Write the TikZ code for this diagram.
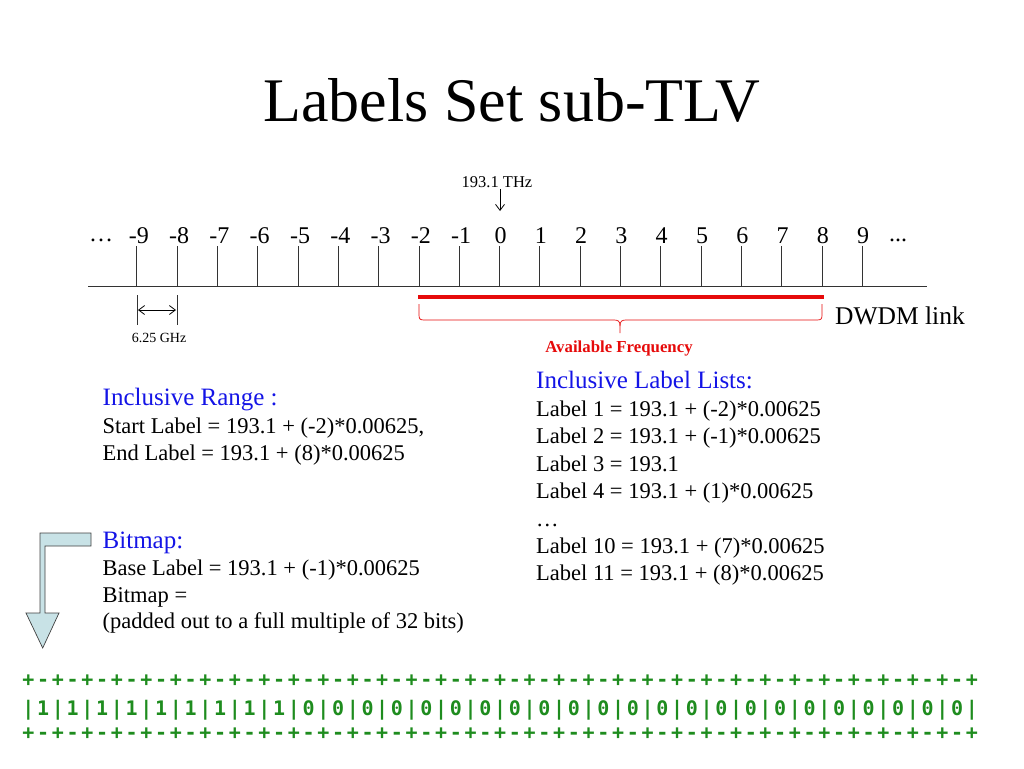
\documentclass[tikz,border=0pt]{standalone}
\usepackage{fontspec}
\setmainfont{Liberation Serif}
\newfontfamily\monofont{DejaVu Sans Mono}
\usetikzlibrary{arrows.meta}
\definecolor{hblue}{RGB}{20,20,230}
\definecolor{fred}{RGB}{230,10,10}
\definecolor{bgreen}{RGB}{30,140,30}
\definecolor{arrowfill}{RGB}{200,226,230}
\begin{document}
\begin{tikzpicture}[x=1pt,y=-1pt,
  txt/.style={inner sep=0pt, anchor=base west, font=\fontsize{22.5}{27}\selectfont},
  head/.style={inner sep=0pt, anchor=base west, text=hblue, font=\fontsize{25}{30}\selectfont},
  num/.style={inner sep=0pt, anchor=base, font=\fontsize{24}{28}\selectfont},
  small/.style={inner sep=0pt, anchor=base, font=\fontsize{14}{16}\selectfont},
  bm/.style={inner sep=0pt, anchor=base, text=bgreen, font=\monofont\bfseries\fontsize{20}{22}\selectfont},
  tickline/.style={line width=0.8pt, black!80},
  barb/.style={-{Straight Barb[length=6pt,width=9pt]}, line width=0.8pt},
  dbarb/.style={{Straight Barb[length=6pt,width=9pt]}-{Straight Barb[length=6pt,width=9pt]}, line width=0.8pt}
]
\useasboundingbox (0,0) rectangle (1024,768);

% title
\node[inner sep=0pt, anchor=base, font=\fontsize{62}{70}\selectfont] (title) at (512,121) {Labels Set sub-TLV};

% axis and ticks
\draw[tickline] (88,286.5) -- (927,286.5);
\foreach \i in {-9,...,9} {
  \draw[tickline] ({499.5+40.3*\i},246) -- ({499.5+40.3*\i},286.5);
  \pgfmathsetmacro\xx{499.5+40.3*\i + (\i<0 ? 2 : 1)}
  \node[num] (n\i) at (\xx,243) {\i};
}
\node[num, anchor=base west] (ldots) at (89,241) {…};
\node[num, anchor=base west] (rdots) at (889,241) {...};

% 193.1 THz
\node[inner sep=0pt, anchor=base, font=\fontsize{16.5}{18}\selectfont] (thz) at (497,187) {193.1 THz};
\coordinate (thzfrom) at (500,189);
\coordinate (thzto) at (500,211);
\draw[barb] (thzfrom) -- (thzto);

% 6.25 GHz
\draw[tickline] (137,295) -- (137,325);
\draw[tickline] (177,295) -- (177,325);
\coordinate (gl) at (138,310);
\coordinate (gr) at (176,310);
\draw[dbarb] (gl) -- (gr);
\node[small] (ghz) at (159,342) {6.25 GHz};

% available frequency
\draw[fred, line width=4pt] (418,297) -- (824,297);
\draw[fred, line width=0.7pt] (419,304) -- (419,315) .. controls (419,319) and (420,320) .. (424,320) -- (614,320) .. controls (618,320) and (620,321) .. (620,326) -- (620,333);
\draw[fred, line width=0.7pt] (620,326) .. controls (620,321) and (622,320) .. (626,320) -- (817,320) .. controls (821,320) and (822,319) .. (822,315) -- (822,304);
\node[inner sep=0pt, anchor=base, text=fred, font=\bfseries\fontsize{16.8}{18}\selectfont] (avail) at (619,352.5) {Available Frequency};
\node[inner sep=0pt, anchor=base west, font=\fontsize{25.5}{30}\selectfont] (dwdm) at (835,324) {DWDM link};

% inclusive range
\node[head] (ir) at (102.5,405) {Inclusive Range :};
\node[txt] (ir1) at (102.5,433) {Start Label = 193.1 + (-2)*0.00625,};
\node[txt] (ir2) at (102.5,460.5) {End Label = 193.1 + (8)*0.00625};

% inclusive label lists
\node[head] (il) at (536,388) {Inclusive Label Lists:};
\node[txt] (il1) at (536,416) {Label 1 = 193.1 + (-2)*0.00625};
\node[txt] (il2) at (536,443.5) {Label 2 = 193.1 + (-1)*0.00625};
\node[txt] (il3) at (536,471) {Label 3 = 193.1};
\node[txt] (il4) at (536,498.5) {Label 4 = 193.1 + (1)*0.00625};
\node[txt] (il5) at (536,526) {…};
\node[txt] (il6) at (536,553) {Label 10 = 193.1 + (7)*0.00625};
\node[txt] (il7) at (536,580.5) {Label 11 = 193.1 + (8)*0.00625};

% bitmap
\node[head] (bmh) at (102.5,548) {Bitmap:};
\node[txt] (bm1) at (102.5,575) {Base Label = 193.1 + (-1)*0.00625};
\node[txt] (bm2) at (102.5,602) {Bitmap =};
\node[txt] (bm3) at (102.5,628) {(padded out to a full multiple of 32 bits)};

% bent arrow
\draw[draw=black!75, fill=arrowfill, line width=0.7pt, line join=miter]
  (91,533) -- (40,533) -- (40,613) -- (26,613) -- (42.7,648) -- (59,613) -- (45,613) -- (45,546) -- (91,546) -- cycle;

% bitmap rows
\foreach \j in {0,...,32} {
  \node[bm] (pt\j) at ({28.5+29.48*\j},686) {+};
  \node[bm] (bar\j) at ({28.5+29.48*\j},715) {|};
  \node[bm] (pb\j) at ({28.5+29.48*\j},739) {+};
}
\foreach \j in {0,...,31} {
  \pgfmathtruncatemacro\dd{\j<9 ? 1 : 0}
  \node[bm] (mt\j) at ({28.5+14.74+29.48*\j},686) {-};
  \node[bm] (dg\j) at ({28.5+14.74+29.48*\j},715) {\dd};
  \node[bm] (mb\j) at ({28.5+14.74+29.48*\j},739) {-};
}
\end{tikzpicture}
\end{document}
